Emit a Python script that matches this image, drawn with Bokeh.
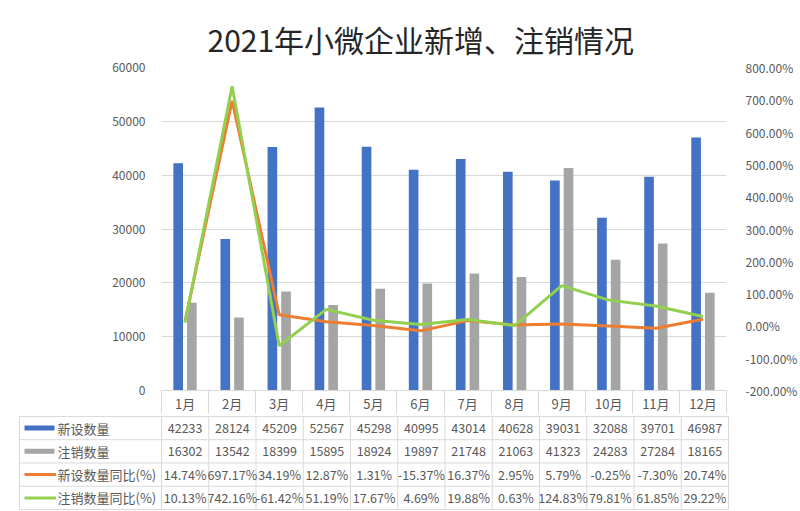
from bokeh.plotting import figure
from bokeh.models import (Range1d, LinearAxis, FixedTicker, PrintfTickFormatter,
                          ColumnDataSource, CustomJSTickFormatter)
from bokeh.transform import dodge
from bokeh.core.properties import value
from bokeh.embed import file_html
from bokeh.resources import INLINE

# ---------------- data ----------------
months = ["1月", "2月", "3月", "4月", "5月", "6月", "7月", "8月", "9月", "10月", "11月", "12月"]
new_count = [42233, 28124, 45209, 52567, 45298, 40995, 43014, 40628, 39031, 32088, 39701, 46987]
cancel_count = [16302, 13542, 18399, 15895, 18924, 19897, 21748, 21063, 41323, 24283, 27284, 18165]
new_yoy = [14.74, 697.17, 34.19, 12.87, 1.31, -15.37, 16.37, 2.95, 5.79, -0.25, -7.30, 20.74]
cancel_yoy = [10.13, 742.16, -61.42, 51.19, 17.67, 4.69, 19.88, 0.63, 124.83, 79.81, 61.85, 29.22]
series_names = ["新设数量", "注销数量", "新设数量同比(%)", "注销数量同比(%)"]
left_ticks = [0, 10000, 20000, 30000, 40000, 50000, 60000]
right_ticks = [-200, -100, 0, 100, 200, 300, 400, 500, 600, 700, 800]
title_text = "2021年小微企业新增、注销情况"

BLUE = "#4472C4"
GRAY = "#A5A5A5"
ORANGE = "#ED7D31"
GREEN = "#92D050"
TXT = "#595959"
LINE = "#D9D9D9"
FONT = "Noto Sans CJK SC"

n = len(months)
xc = [i + 0.5 for i in range(n)]
src = ColumnDataSource(dict(x=xc, month=months, new=new_count, cancel=cancel_count,
                            new_yoy=new_yoy, cancel_yoy=cancel_yoy))

# ---------------- main chart ----------------
p = figure(width=800, height=415, x_range=Range1d(0, n), y_range=Range1d(0, 60000),
           output_backend="svg", toolbar_location=None, x_axis_location=None,
           y_axis_location=None,
           min_border_left=161, min_border_right=72, min_border_top=67, min_border_bottom=23)
p.outline_line_color = None
p.background_fill_color = "white"
p.border_fill_color = "white"

p.title.text = title_text
p.title.align = "left"
p.title.offset = 46
p.title.text_font = FONT
p.title.text_font_size = "30px"
p.title.text_font_style = "normal"
p.title.text_color = "#262626"
p.title.standoff = 14

p.extra_y_ranges = {"pct": Range1d(-200, 800)}

yl = LinearAxis(ticker=FixedTicker(ticks=left_ticks))
yr = LinearAxis(y_range_name="pct", ticker=FixedTicker(ticks=right_ticks),
                formatter=PrintfTickFormatter(format="%.2f%%"))
for ax in (yl, yr):
    ax.axis_line_color = None
    ax.major_tick_line_color = None
    ax.minor_tick_line_color = None
    ax.major_label_text_font = FONT
    ax.major_label_text_font_size = "12px"
    ax.major_label_text_color = TXT
yl.major_label_standoff = 10
yr.major_label_standoff = 13
p.add_layout(yl, "left")
p.add_layout(yr, "right")

xa = LinearAxis(ticker=FixedTicker(ticks=xc, minor_ticks=list(range(n + 1))),
                formatter=CustomJSTickFormatter(args=dict(months=months),
                                                code="const i = Math.floor(tick); return months[i] || '';"))
xa.axis_line_color = LINE
xa.major_tick_out = 0
xa.major_tick_in = 0
xa.major_tick_line_color = None
xa.minor_tick_out = 23
xa.minor_tick_in = 0
xa.minor_tick_line_color = LINE
xa.major_label_standoff = -20
xa.major_label_text_font = FONT
xa.major_label_text_font_size = "13px"
xa.major_label_text_color = TXT
p.add_layout(xa, "below")

p.ygrid.ticker = FixedTicker(ticks=left_ticks)
p.ygrid.grid_line_color = LINE
p.xgrid.grid_line_color = None

p.vbar(x=dodge("x", -0.145, range=p.x_range), top="new", width=0.205, source=src,
       fill_color=BLUE, line_color=None)
p.vbar(x=dodge("x", 0.145, range=p.x_range), top="cancel", width=0.205, source=src,
       fill_color=GRAY, line_color=None)
p.line("x", "new_yoy", source=src, y_range_name="pct", line_color=ORANGE, line_width=3)
p.line("x", "cancel_yoy", source=src, y_range_name="pct", line_color=GREEN, line_width=3)

# ---------------- data table ----------------
unit = 567 / n            # px per column
x_left = -144 / unit      # frame starts 144px left of first column
x_border = -142 / unit    # table's left border
t = figure(width=800, height=96, x_range=Range1d(x_left, n + 2 / unit),
           y_range=Range1d(4 - 96 / 23.5, 4.04),
           output_backend="svg", toolbar_location=None, x_axis_location=None,
           y_axis_location=None,
           min_border_left=17, min_border_right=70, min_border_top=0, min_border_bottom=0)
t.outline_line_color = None
t.grid.grid_line_color = None
t.border_fill_color = "white"

rows_y = [3.5, 2.5, 1.5, 0.5]
hy = [4, 3, 2, 1, 0]
t.segment(x0=[x_border] * len(hy), x1=[n] * len(hy), y0=hy, y1=hy, line_color=LINE, line_width=1)
vx = [x_border] + list(range(n + 1))
t.segment(x0=vx, x1=vx, y0=[0] * len(vx), y1=[4] * len(vx), line_color=LINE, line_width=1)

row_vals = [
    [str(v) for v in new_count],
    [str(v) for v in cancel_count],
    [f"{v:.2f}%" for v in new_yoy],
    [f"{v:.2f}%" for v in cancel_yoy],
]
for ry, vals in zip(rows_y, row_vals):
    t.text(x=xc, y=[ry] * n, text=vals, text_align="center", text_baseline="middle",
           text_font=value(FONT), text_font_size="12.5px", text_color=TXT)

sw_x0 = (24 - 161) / unit
sw_x1 = (54 - 161) / unit
t.rect(x=[(sw_x0 + sw_x1) / 2] * 2, y=rows_y[:2], width=sw_x1 - sw_x0, height=5,
       height_units="screen", fill_color=[BLUE, GRAY], line_color=None)
t.segment(x0=[sw_x0] * 2, x1=[sw_x1 + 0.03] * 2, y0=rows_y[2:], y1=rows_y[2:],
          line_color=[ORANGE, GREEN], line_width=3)
t.text(x=[(57 - 161) / unit] * 4, y=rows_y, text=series_names, text_align="left",
       text_baseline="middle", text_font=value(FONT), text_font_size="13px", text_color=TXT)

html = file_html([p, t], INLINE)
html = html.replace("<head>", "<head><style>body{margin:0;padding:0} .bk-root, body > div{margin:0;padding:0}</style>", 1)
open("out.html", "w").write(html)
